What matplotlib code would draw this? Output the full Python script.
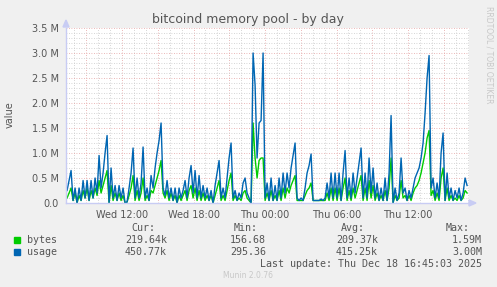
import numpy as np
import matplotlib
matplotlib.use('Agg')
import matplotlib.pyplot as plt

# Samples every ~10 minutes, starting Wed 07:23 (hours counted from Wed 00:00)
start_hour = 7.39
step_hour = 0.1678

# mempool usage (bytes, in millions)
usage = [
    0.25, 0.45, 0.65, 0.05, 0.30, 0.00, 0.30, 0.05, 0.45, 0.10,
    0.45, 0.05, 0.45, 0.10, 0.50, 0.20, 0.95, 0.30, 0.60, 1.00,
    1.35, 0.00, 0.70, 0.10, 0.35, 0.05, 0.35, 0.10, 0.30, 0.00,
    0.02, 0.30, 0.60, 1.10, 0.10, 0.50, 0.10, 0.40, 1.12, 0.10,
    0.30, 0.05, 0.55, 0.30, 0.70, 1.00, 1.25, 1.60, 0.30, 0.15,
    0.45, 0.10, 0.30, 0.05, 0.30, 0.00, 0.30, 0.10, 0.25, 0.45,
    0.10, 0.50, 0.75, 0.20, 0.65, 0.10, 0.55, 0.10, 0.35, 0.10,
    0.30, 0.05, 0.25, 0.00, 0.35, 0.60, 0.85, 0.10, 0.30, 0.10,
    0.50, 0.90, 1.20, 0.10, 0.25, 0.05, 0.20, 0.10, 0.40, 0.50,
    0.20, 0.10, 0.00, 3.00, 2.36, 0.90, 1.60, 1.65, 3.00, 0.10,
    0.40, 0.05, 0.50, 0.05, 0.35, 0.05, 0.50, 0.10, 0.60, 0.20,
    0.60, 0.30, 0.70, 0.95, 1.20, 0.10, 0.05, 0.10, 0.05, 0.30,
    0.60, 0.75, 0.98, 0.05, 0.05, 0.05, 0.05, 0.08, 0.05, 0.10,
    0.40, 0.10, 0.60, 0.10, 0.60, 0.10, 0.60, 0.05, 0.60, 1.05,
    0.10, 0.50, 0.10, 0.60, 0.20, 0.50, 0.80, 1.10, 0.10, 0.60,
    0.10, 0.90, 0.20, 0.70, 0.10, 0.40, 0.05, 0.30, 0.05, 0.50,
    0.05, 0.60, 1.75, 0.00, 0.30, 0.05, 0.20, 0.90, 0.20, 0.30,
    0.05, 0.25, 0.10, 0.30, 0.50, 0.60, 0.70, 0.90, 1.20, 1.80,
    2.50, 2.95, 0.30, 0.50, 0.10, 0.40, 0.10, 1.00, 1.40, 0.05,
    0.60, 0.10, 0.30, 0.05, 0.25, 0.10, 0.30, 0.05, 0.20, 0.50,
    0.35,
]

# mempool bytes (serialized size, in millions)
bytes_ = [
    0.10, 0.20, 0.30, 0.05, 0.20, 0.00, 0.15, 0.05, 0.25, 0.10,
    0.30, 0.05, 0.25, 0.10, 0.30, 0.15, 0.45, 0.20, 0.35, 0.50,
    0.65, 0.00, 0.35, 0.05, 0.20, 0.05, 0.20, 0.05, 0.15, 0.00,
    0.02, 0.15, 0.30, 0.55, 0.05, 0.25, 0.05, 0.20, 0.50, 0.05,
    0.15, 0.05, 0.25, 0.20, 0.35, 0.50, 0.65, 0.85, 0.20, 0.10,
    0.25, 0.05, 0.20, 0.05, 0.15, 0.00, 0.15, 0.05, 0.15, 0.25,
    0.05, 0.25, 0.35, 0.10, 0.30, 0.05, 0.25, 0.05, 0.20, 0.05,
    0.15, 0.05, 0.15, 0.00, 0.15, 0.30, 0.45, 0.05, 0.15, 0.05,
    0.25, 0.45, 0.60, 0.05, 0.15, 0.05, 0.10, 0.05, 0.20, 0.25,
    0.10, 0.05, 0.00, 1.60, 0.90, 0.50, 0.85, 0.90, 0.90, 0.05,
    0.20, 0.05, 0.25, 0.05, 0.15, 0.05, 0.25, 0.05, 0.30, 0.10,
    0.30, 0.20, 0.35, 0.45, 0.55, 0.05, 0.05, 0.05, 0.05, 0.15,
    0.25, 0.30, 0.40, 0.05, 0.05, 0.05, 0.05, 0.05, 0.05, 0.05,
    0.20, 0.05, 0.30, 0.05, 0.30, 0.05, 0.30, 0.05, 0.30, 0.50,
    0.05, 0.25, 0.05, 0.30, 0.10, 0.25, 0.40, 0.55, 0.05, 0.30,
    0.05, 0.45, 0.10, 0.35, 0.05, 0.20, 0.05, 0.15, 0.05, 0.25,
    0.05, 0.30, 0.90, 0.00, 0.15, 0.05, 0.10, 0.45, 0.10, 0.15,
    0.05, 0.15, 0.05, 0.20, 0.30, 0.35, 0.45, 0.60, 0.80, 1.00,
    1.30, 1.45, 0.15, 0.25, 0.05, 0.20, 0.05, 0.50, 0.70, 0.05,
    0.30, 0.05, 0.15, 0.05, 0.10, 0.05, 0.15, 0.05, 0.10, 0.25,
    0.20,
]

x_ticks = [12, 18, 24, 30, 36]
x_labels = ['Wed 12:00', 'Wed 18:00', 'Thu 00:00', 'Thu 06:00', 'Thu 12:00']
y_ticks = [0, 0.5, 1.0, 1.5, 2.0, 2.5, 3.0, 3.5]
y_labels = ['0.0', '0.5 M', '1.0 M', '1.5 M', '2.0 M', '2.5 M', '3.0 M', '3.5 M']

legend_names = ['bytes', 'usage']
legend_colors = ['#00cc00', '#0066b3']
cur_vals = ['219.64k', '450.77k']
min_vals = ['156.68', '295.36']
avg_vals = ['209.37k', '415.25k']
max_vals = ['1.59M', '3.00M']

hours = start_hour + step_hour * np.arange(len(usage))

W, H = 497, 287
fig = plt.figure(figsize=(W / 100, H / 100), dpi=100, facecolor='#f0f0f0')
ax = fig.add_axes([66 / W, 1 - 203 / H, 403 / W, 175 / H], facecolor='white')

ax.plot(hours, bytes_, color=legend_colors[0], lw=1.0)
ax.plot(hours, usage, color=legend_colors[1], lw=1.0)

ax.set_xlim(7.3, 12 + (469 - 122) / 11.92)
ax.set_ylim(0, 3.5)

ax.set_xticks(x_ticks)
ax.set_xticklabels(x_labels)
ax.set_yticks(y_ticks)
ax.set_yticklabels(y_labels)

# grid: red dotted major, grey dotted minor (hourly / 0.1M)
for h in np.arange(8, 42, 1):
    major = (h % 3 == 0)
    ax.axvline(h, color='#e4a0a0' if major else '#c8c8c8', lw=0.6,
               ls=(0, (1, 2)), zorder=0)
for i, v in enumerate(np.arange(0, 3.51, 0.1)):
    major = (i % 5 == 0)
    ax.axhline(v, color='#e4a0a0' if major else '#c8c8c8', lw=0.6,
               ls=(0, (1, 2)), zorder=0)

for s in ['top', 'right']:
    ax.spines[s].set_visible(False)
for s in ['left', 'bottom']:
    ax.spines[s].set_color('#c8ccf4')
    ax.spines[s].set_linewidth(1.0)
ax.tick_params(which='both', length=0, labelsize=7, colors='#555555', pad=5)

# axis arrows
fig.patches.append(plt.Polygon([[63 / W, 1 - 27 / H], [69 / W, 1 - 27 / H], [66 / W, 1 - 20 / H]],
                               closed=True, transform=fig.transFigure, color='#c8ccf4'))
fig.patches.append(plt.Polygon([[469 / W, 1 - 200 / H], [469 / W, 1 - 206 / H], [476 / W, 1 - 203 / H]],
                               closed=True, transform=fig.transFigure, color='#c8ccf4'))

fig.text(248 / W, 1 - 19 / H, 'bitcoind memory pool - by day', ha='center', va='center',
         fontsize=9.0, color='#555555')
fig.text(10 / W, 1 - 115 / H, 'value', rotation=90, ha='center', va='center',
         fontsize=7, color='#555555')
fig.text(489 / W, 1 - 6 / H, 'RRDTOOL / TOBI OETIKER', rotation=270, ha='center', va='top',
         fontsize=5.5, color='#c8c8c8')

mono = dict(family='DejaVu Sans Mono', fontsize=7.2, color='#555555', va='center')
fig.text(155 / W, 1 - 228 / H, 'Cur:', ha='right', **mono)
fig.text(258 / W, 1 - 228 / H, 'Min:', ha='right', **mono)
fig.text(365 / W, 1 - 228 / H, 'Avg:', ha='right', **mono)
fig.text(470 / W, 1 - 228 / H, 'Max:', ha='right', **mono)
for i, name in enumerate(legend_names):
    yy = 1 - (240 + 12 * i) / H
    fig.patches.append(plt.Rectangle((14 / W, yy - 3 / H), 6 / W, 6 / H,
                                     transform=fig.transFigure, color=legend_colors[i]))
    fig.text(27 / W, yy, name, ha='left', **mono)
    fig.text(167 / W, yy, cur_vals[i], ha='right', **mono)
    fig.text(266 / W, yy, min_vals[i], ha='right', **mono)
    fig.text(378 / W, yy, avg_vals[i], ha='right', **mono)
    fig.text(482 / W, yy, max_vals[i], ha='right', **mono)
fig.text(482 / W, 1 - 264 / H, 'Last update: Thu Dec 18 16:45:03 2025', ha='right', **mono)
fig.text(248 / W, 1 - 276 / H, 'Munin 2.0.76', ha='center', va='center',
         fontsize=5.5, color='#c8c8c8')

fig.savefig('out.png', dpi=100, facecolor=fig.get_facecolor())
